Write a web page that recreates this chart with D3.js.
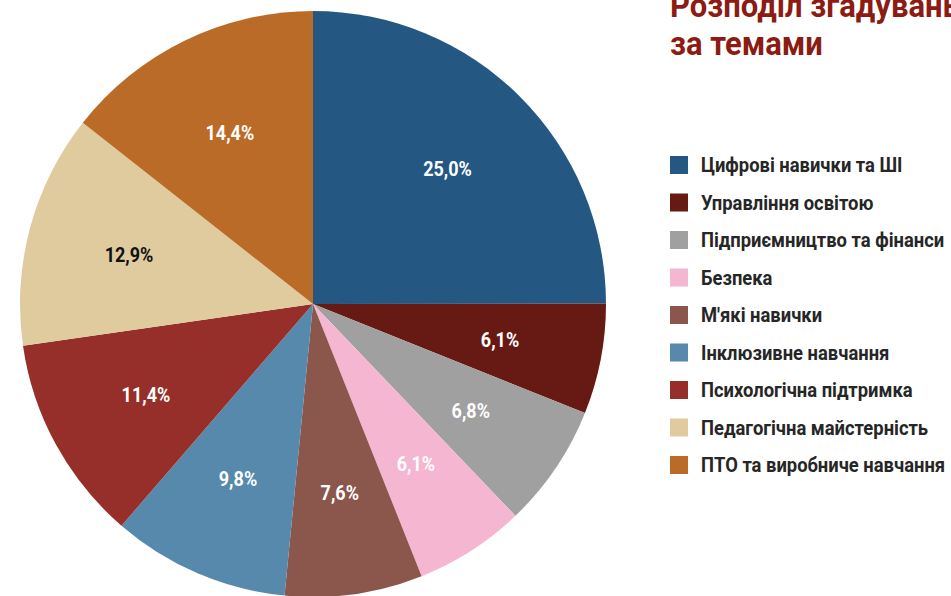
<!DOCTYPE html>
<html>
<head>
<meta charset="UTF-8">
<title>Розподіл згадувань за темами</title>
<script src="https://cdn.jsdelivr.net/npm/d3@7/dist/d3.min.js"></script>
<style>
    body { margin: 0; background: #fff; overflow: hidden; }
    svg text { font-family: Roboto, "Liberation Sans", sans-serif; font-weight: bold; }
    .title { fill: #8c1c13; font-size: 31px; }
    .legend text { fill: #262626; font-size: 18.4px; }
    .slice-label { font-size: 18px; }
</style>
</head>
<body>
<div id="chart"></div>
<script>
    var width = 951, height = 596;

    // data
    var categories = [
        "Цифрові навички та ШІ",
        "Управління освітою",
        "Підприємництво та фінанси",
        "Безпека",
        "М'які навички",
        "Інклюзивне навчання",
        "Психологічна підтримка",
        "Педагогічна майстерність",
        "ПТО та виробниче навчання"
    ];
    var shares = [25.0, 6.1, 6.8, 6.1, 7.6, 9.8, 11.4, 12.9, 14.4];
    var colors = ["#245883", "#661a13", "#a0a0a0", "#f5b6d2", "#8b564b",
                  "#5689ab", "#962e2a", "#dfcb9e", "#bb6b28"];
    var labelColors = ["#fff", "#fff", "#fff", "#fff", "#fff", "#fff", "#fff", "#111", "#fff"];
    var titleLines = ["Розподіл згадувань", "за темами"];

    var cx = 313, cy = 304, radius = 293;
    var stretch = " scale(1,1.12)"; // the original text is a bit tall and narrow

    var svg = d3.select("#chart").append("svg")
            .attr("width", width)
            .attr("height", height);

    var pie = d3.pie()
            .sort(null)
            .value(function(d) { return d; });

    var arc = d3.arc().innerRadius(0).outerRadius(radius);
    var labelArc = d3.arc().innerRadius(radius * 0.65).outerRadius(radius * 0.65);

    var fmt = function(v) { return v.toFixed(1).replace(".", ",") + "%"; };

    var g = svg.append("g")
            .attr("transform", "translate(" + cx + "," + cy + ")");

    var arcs = pie(shares);

    g.selectAll("path")
            .data(arcs)
            .enter()
            .append("path")
            .attr("d", arc)
            .attr("fill", function(d, i) { return colors[i]; });

    g.selectAll(".slice-label")
            .data(arcs)
            .enter()
            .append("text")
            .attr("class", "slice-label")
            .attr("transform", function(d) { return "translate(" + labelArc.centroid(d) + ")" + stretch; })
            .attr("text-anchor", "middle")
            .attr("dy", "0.35em")
            .attr("fill", function(d, i) { return labelColors[i]; })
            .text(function(d) { return fmt(d.data); });

    // title, cut by the right edge as in the original
    svg.selectAll(".title")
            .data(titleLines)
            .enter()
            .append("text")
            .attr("class", "title")
            .attr("transform", function(d, i) { return "translate(670," + (17 + i * 38) + ") scale(1,1.1)"; })
            .text(function(d) { return d; });

    var legendY = d3.scalePoint()
            .domain(categories)
            .range([165, 465]);

    var legend = svg.append("g")
            .attr("class", "legend")
            .selectAll("g")
            .data(categories)
            .enter()
            .append("g")
            .attr("transform", function(d) { return "translate(670," + legendY(d) + ")"; });

    legend.append("rect")
            .attr("x", 0)
            .attr("y", -9)
            .attr("width", 18)
            .attr("height", 18)
            .attr("fill", function(d, i) { return colors[i]; });

    legend.append("text")
            .attr("transform", "translate(31,0)" + stretch)
            .attr("dy", "0.36em")
            .text(function(d) { return d; });
</script>
</body>
</html>
